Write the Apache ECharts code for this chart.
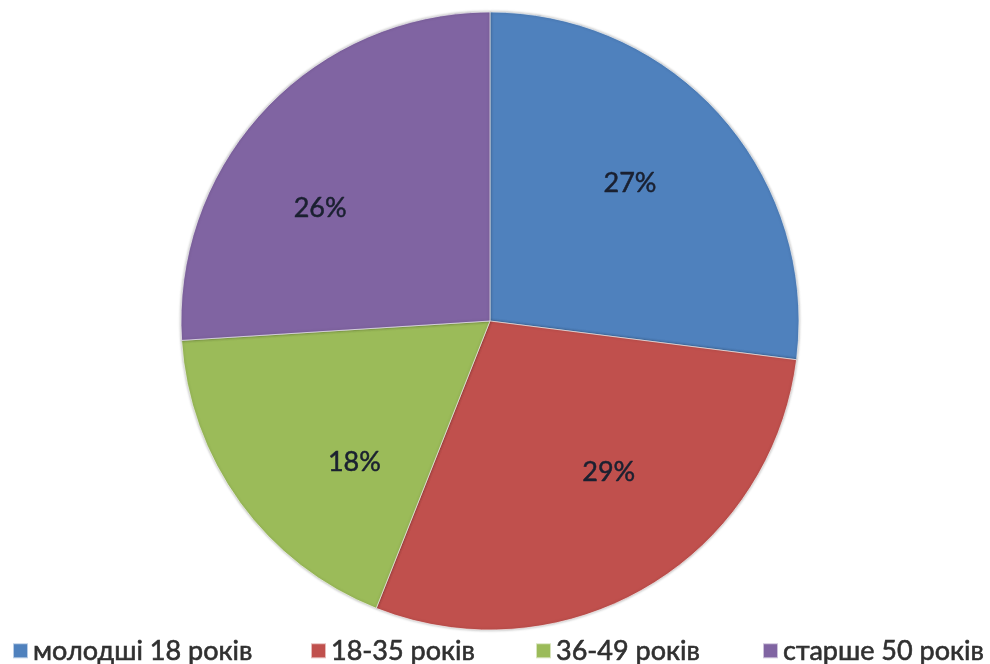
<!DOCTYPE html>
<html>
<head>
<meta charset="utf-8">
<script src="https://cdn.jsdelivr.net/npm/echarts@6/dist/echarts.min.js"></script>
<style>
  html, body { margin: 0; padding: 0; background: #ffffff; }
  #chart { width: 990px; height: 664px; }
</style>
</head>
<body>
<div id="chart"></div>
<script>
// Age groups and their shares (percent)
const categories = ['молодші 18 років', '18-35 років', '36-49 років', 'старше 50 років'];
const shares = [27, 29, 18, 26];
const colors = ['#4F81BD', '#C0504D', '#9BBB59', '#8064A2'];
// small nudges for the percentage labels
const labelNudges = [[-7, -8], [19, -17], [23, 26], [-27, 21]];
// left edge of each legend entry
const legendLefts = [12, 310, 535, 762];

const chart = echarts.init(document.getElementById('chart'), null, { renderer: 'canvas' });

const center = [490, 321];
const outerR = 309;

const sliceData = categories.map((name, i) => ({
  name: name,
  value: shares[i],
  itemStyle: { color: colors[i] }
}));

const labelData = categories.map((name, i) => ({
  name: name,
  value: shares[i],
  label: { offset: labelNudges[i] }
}));

const legends = categories.map((name, i) => ({
  data: [name],
  left: legendLefts[i],
  top: 637,
  padding: 0,
  icon: 'rect',
  itemWidth: 15,
  itemHeight: 15,
  selectedMode: false,
  textStyle: {
    fontFamily: 'Lato',
    fontSize: 27,
    color: '#303030',
    textBorderColor: '#303030',
    textBorderWidth: 0.6
  }
}));

chart.setOption({
  animation: false,
  legend: legends,
  series: [
    {
      type: 'pie',
      center: center,
      radius: [0, outerR],
      startAngle: 90,
      clockwise: true,
      data: sliceData,
      label: { show: false },
      labelLine: { show: false },
      itemStyle: {
        borderColor: 'rgba(255,255,255,0.6)',
        borderWidth: 1,
        shadowBlur: 3,
        shadowColor: 'rgba(0,0,0,0.35)'
      },
      emphasis: { disabled: true },
      silent: true
    },
    {
      type: 'pie',
      center: center,
      radius: [77, outerR],
      startAngle: 90,
      clockwise: true,
      data: labelData,
      itemStyle: { color: 'rgba(0,0,0,0)' },
      label: {
        show: true,
        position: 'inside',
        formatter: '{c}%',
        fontFamily: 'Lato',
        fontSize: 27,
        color: '#1a2030',
        textBorderColor: '#1a2030',
        textBorderWidth: 0.5
      },
      labelLine: { show: false },
      emphasis: { disabled: true },
      silent: true
    }
  ]
});
</script>
</body>
</html>
